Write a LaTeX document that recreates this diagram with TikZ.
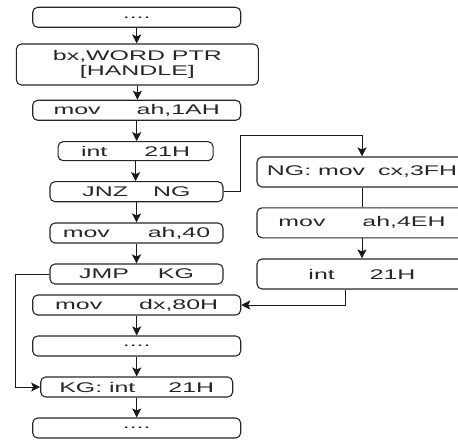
\documentclass[tikz,border=0pt]{standalone}
\usepackage{fontspec}
\usetikzlibrary{arrows.meta}
\newfontfamily\boxfont[FakeStretch=1.78]{Liberation Sans}
\begin{document}
\begin{tikzpicture}[x=1pt,y=-1pt,
  op/.style={draw=black!85, line width=1.1pt, rounded corners=5pt, inner sep=0pt,
    font=\boxfont\fontsize{14}{15}\selectfont, text=black!85, align=center},
  wide/.style={minimum width=208pt, minimum height=20pt},
  mid/.style={minimum width=173pt, minimum height=20pt},
  side/.style={minimum width=210pt, minimum height=30pt},
  flow/.style={line width=1pt, draw=black!90, -{Stealth[length=9pt,width=9pt,inset=2pt]}},
  link/.style={line width=1pt, draw=black!90}]
\useasboundingbox (0,0) rectangle (458,441);
\clip (0,0) rectangle (458,441);

% main column
\node[op, wide] (b1) at (136.7,17.3) {....};
\node[op, minimum width=242pt, minimum height=41pt] (b2) at (137.4,64.5) {bx,WORD PTR\\{[HANDLE]}};
\node[op, wide] (b3) at (136.7,110.3) {mov\hspace{36pt}ah,1AH};
\node[op, minimum width=155pt, minimum height=19pt] (b4) at (135.6,151.2) {int\hspace{37pt}21H};
\node[op, mid] (b5) at (136.5,191.7) {JNZ\hspace{25pt}NG};
\node[op, mid] (b6) at (136.5,233) {mov\hspace{38pt}ah,40};
\node[op, mid] (b7) at (136.5,274) {JMP\hspace{29pt}KG};
\node[op, wide] (b8) at (136.7,305) {mov\hspace{37pt}dx,80H};
\node[op, wide] (b9) at (136.7,346) {....};
\node[op, minimum width=192pt, minimum height=20pt] (b10) at (136.7,387) {KG: int\hspace{33pt}21H};
\node[op, wide] (b11) at (136.7,428) {....};

% branch column
\node[op, side] (r1) at (362,172) {NG: mov\hspace{13pt}cx,3FH};
\node[op, side] (r2) at (362,222.8) {mov\hspace{37pt}ah,4EH};
\node[op, side] (r3) at (362,274) {int\hspace{35pt}21H};

% straight flow
\draw[flow] (b1.south) -- (b1.south |- b2.north);
\draw[flow] (b2.south) -- (b2.south |- b3.north);
\draw[flow] (b3.south) -- (b3.south |- b4.north);
\draw[flow] (b4.south) -- (b4.south |- b5.north);
\draw[flow] (b5.south) -- (b5.south |- b6.north);
\draw[flow] (b6.south) -- (b6.south |- b7.north);
\draw[flow] (b8.south) -- (b8.south |- b9.north);
\draw[flow] (b9.south) -- (b9.south |- b10.north);
\draw[flow] (b10.south) -- (b10.south |- b11.north);

% JNZ branch
\coordinate (jn) at (240,136);
\draw[flow] (b5.east) -| (jn) -| (r1.north);
\draw[link] (r1.south) -- (r2.north);
\draw[flow] (r2.south) -- (r3.north);
\draw[flow] ([xshift=-17pt]r3.south) |- (b8.east);

% JMP branch
\coordinate (jm) at (15,274);
\draw[flow] (b7.west) -- (jm) |- (b10.west);
\end{tikzpicture}
\end{document}
